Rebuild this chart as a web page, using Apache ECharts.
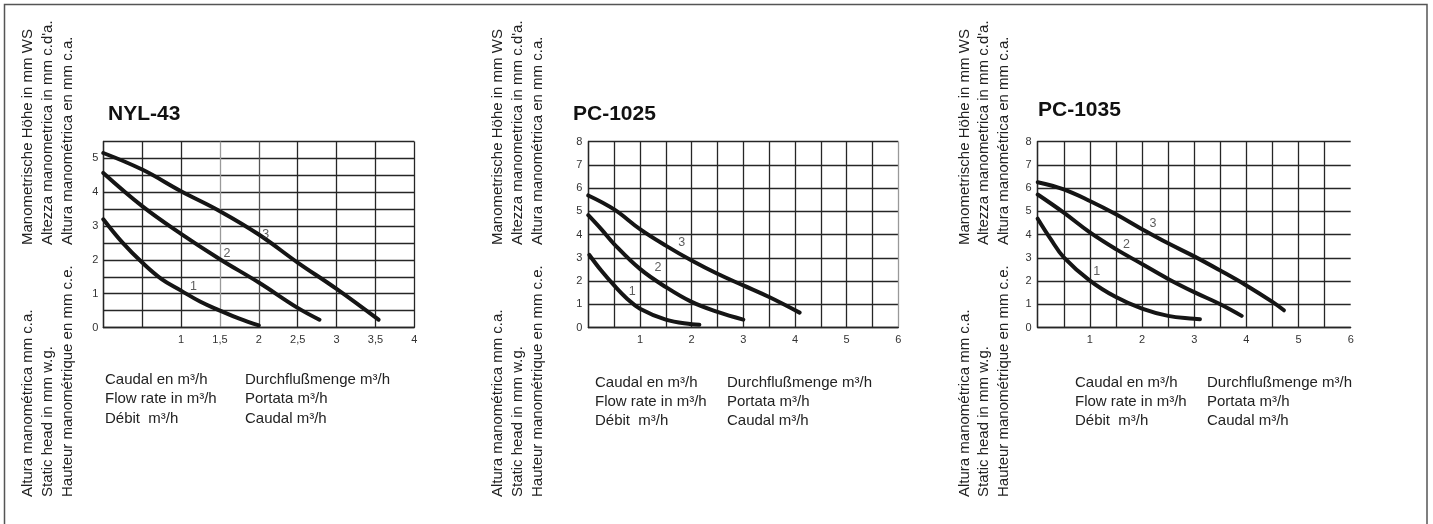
<!DOCTYPE html>
<html><head><meta charset="utf-8">
<script src="https://cdn.jsdelivr.net/npm/echarts@6/dist/echarts.min.js"></script>
<style>html,body{margin:0;padding:0;background:#fff}#c{width:1433px;height:524px}</style>
</head><body><div id="c"></div>
<script>
// ---- data ----
const titles = ['NYL-43', 'PC-1025', 'PC-1035'];
const xTicksA = ['', '', '1', '1,5', '2', '2,5', '3', '3,5', '4'];
const yTicksA = ['0', '', '1', '', '2', '', '3', '', '4', '', '5', ''];
const xTicksB = ['', '', '1', '', '2', '', '3', '', '4', '', '5', '', '6'];
const yTicksB = ['0', '1', '2', '3', '4', '5', '6', '7', '8'];
const curveNames = ['1', '2', '3'];

const nyl43_1 = [[0,3.2],[0.25,2.5],[0.5,1.92],[0.75,1.43],[1,1.09],[1.25,0.76],[1.5,0.5],[1.75,0.26],[2,0.06]];
const nyl43_2 = [[0,4.57],[0.5,3.59],[1,2.77],[1.5,2.02],[2,1.33],[2.5,0.58],[2.78,0.23]];
const nyl43_3 = [[0,5.16],[0.5,4.67],[1,4.03],[1.5,3.44],[2,2.75],[2.5,1.92],[3,1.14],[3.54,0.23]];
const nyl43_lab = [[1.16,1.2],[1.59,2.19],[2.09,2.75]];

const pc1025_1 = [[0.02,3.12],[0.25,2.45],[0.5,1.81],[0.75,1.24],[1,0.81],[1.5,0.34],[2,0.14],[2.15,0.12]];
const pc1025_2 = [[0,4.83],[0.25,4.23],[0.5,3.59],[1,2.52],[1.5,1.74],[2,1.1],[2.5,0.67],[3,0.34]];
const pc1025_3 = [[0,5.68],[0.5,5.08],[1,4.23],[1.5,3.52],[2,2.88],[2.5,2.31],[3,1.81],[3.5,1.31],[4.09,0.64]];
const pc1025_lab = [[0.85,1.53],[1.35,2.59],[1.81,3.65]];

const pc1035_1 = [[0,4.68],[0.25,3.8],[0.5,3.02],[1,2.02],[1.5,1.31],[2,0.81],[2.5,0.5],[3,0.38],[3.11,0.36]];
const pc1035_2 = [[0,5.72],[0.5,4.94],[1,4.09],[1.5,3.37],[2,2.73],[2.5,2.09],[3,1.52],[3.5,1.0],[3.91,0.5]];
const pc1035_3 = [[0,6.25],[0.5,5.94],[1,5.44],[1.5,4.87],[2,4.23],[2.5,3.62],[3,3.06],[3.5,2.45],[4,1.81],[4.5,1.1],[4.72,0.74]];
const pc1035_lab = [[1.13,2.4],[1.7,3.55],[2.21,4.48]];

const yTitleTop = ['Manometrische Höhe in mm WS', "Altezza manometrica in mm c.d'a.", 'Altura manométrica en mm c.a.'];
const yTitleBottom = ['Altura manométrica mm c.a.', 'Static head in mm w.g.', 'Hauteur manométrique en mm c.e.'];
const xTitleLeft = ['Caudal en m³/h', 'Flow rate in m³/h', 'Débit  m³/h'];
const xTitleRight = ['Durchflußmenge m³/h', 'Portata m³/h', 'Caudal m³/h'];

// ---- layout ----
const FONT = '"Liberation Sans", Arial, sans-serif';
const panels = [
  {left:103.3, width:311, vx:[28,48,68], tx:108, ty:114, bx:105, bx2:245, by:380},
  {left:588.3, width:310, vx:[498,518,538], tx:573, ty:114, bx:595, bx2:727, by:382.5},
  {left:1037.7, width:313, vx:[965,984,1004], tx:1038, ty:110, bx:1075, bx2:1207, by:382.5}
];
const curves = [[nyl43_1,nyl43_2,nyl43_3],[pc1025_1,pc1025_2,pc1025_3],[pc1035_1,pc1035_2,pc1035_3]];
const labs = [nyl43_lab, pc1025_lab, pc1035_lab];

const D = '#262626';
const grids = panels.map(p => ({left:p.left, top:141.5, width:p.width, height:186, containLabel:false}));

const labelStyle = {fontSize:11, color:'#333', fontFamily:FONT};
const axisLine = {show:true, lineStyle:{color:D, width:1.3}};
const xAxes = [
  {gridIndex:0, type:'value', min:0, max:4, interval:0.5, axisLine, axisTick:{show:false},
   axisLabel:{...labelStyle, margin:7, formatter:v => xTicksA[Math.round(v/0.5)]},
   splitLine:{show:true, lineStyle:{color:[D,D,D,'#9a9a9a','#555',D,D,D,D], width:1.3}}},
  {gridIndex:1, type:'value', min:0, max:6, interval:0.5, axisLine, axisTick:{show:false},
   axisLabel:{...labelStyle, margin:7, formatter:v => xTicksB[Math.round(v/0.5)]},
   splitLine:{show:true, lineStyle:{color:[D,D,D,D,D,D,D,D,D,D,D,D,'#999'], width:1.3}}},
  {gridIndex:2, type:'value', min:0, max:6, interval:0.5, axisLine, axisTick:{show:false},
   axisLabel:{...labelStyle, margin:7, formatter:v => xTicksB[Math.round(v/0.5)]},
   splitLine:{show:true, lineStyle:{color:[D,D,D,D,D,D,D,D,D,D,D,D,'rgba(0,0,0,0)'], width:1.3}}}
];
const yAxes = [
  {gridIndex:0, type:'value', min:0, max:5.5, interval:0.5, axisLine, axisTick:{show:false},
   axisLabel:{...labelStyle, margin:5, formatter:v => yTicksA[Math.round(v/0.5)]},
   splitLine:{show:true, lineStyle:{color:D, width:1.3}}},
  {gridIndex:1, type:'value', min:0, max:8, interval:1, axisLine, axisTick:{show:false},
   axisLabel:{...labelStyle, margin:6, formatter:v => yTicksB[Math.round(v)]},
   splitLine:{show:true, lineStyle:{color:D, width:1.3}}},
  {gridIndex:2, type:'value', min:0, max:8, interval:1, axisLine, axisTick:{show:false},
   axisLabel:{...labelStyle, margin:6, formatter:v => yTicksB[Math.round(v)]},
   splitLine:{show:true, lineStyle:{color:D, width:1.3}}}
];

const series = [];
curves.forEach((set, gi) => {
  set.forEach((d, ci) => {
    series.push({type:'line', xAxisIndex:gi, yAxisIndex:gi, data:d, smooth:0.4, symbol:'none',
      lineStyle:{color:'#151515', width:4, cap:'round'}, z:5, silent:true});
  });
  series.push({type:'scatter', xAxisIndex:gi, yAxisIndex:gi, symbolSize:0, z:6, silent:true,
    data: labs[gi].map((v, i) => ({name:curveNames[i], value:v})),
    label:{show:true, position:'inside', formatter:p => p.name, fontSize:12.5, color:'#333', fontFamily:FONT}});
});

const graphic = [
  {type:'polyline', shape:{points:[[4.5,524],[4.5,4.5],[1427,4.5],[1427,524]]},
   style:{stroke:'#555', lineWidth:1.5, fill:null}, silent:true}
];
panels.forEach((p, gi) => {
  graphic.push({type:'text', x:p.tx, y:p.ty,
    style:{text:titles[gi], font:'bold 21px ' + FONT, fill:'#111', textAlign:'left', textVerticalAlign:'middle'}});
  p.vx.forEach((x, i) => {
    graphic.push({type:'text', x:x, y:245, rotation:Math.PI/2,
      style:{text:yTitleTop[i], font:'15px ' + FONT, fill:'#222', textAlign:'left', textVerticalAlign:'middle'}});
    graphic.push({type:'text', x:x, y:497, rotation:Math.PI/2,
      style:{text:yTitleBottom[i], font:'15px ' + FONT, fill:'#222', textAlign:'left', textVerticalAlign:'middle'}});
  });
  xTitleLeft.forEach((t, i) => {
    graphic.push({type:'text', x:p.bx, y:p.by + i*19.3,
      style:{text:t, font:'15px ' + FONT, fill:'#222', textAlign:'left', textVerticalAlign:'middle'}});
  });
  xTitleRight.forEach((t, i) => {
    graphic.push({type:'text', x:p.bx2, y:p.by + i*19.3,
      style:{text:t, font:'15px ' + FONT, fill:'#222', textAlign:'left', textVerticalAlign:'middle'}});
  });
});

const chart = echarts.init(document.getElementById('c'), null, {renderer:'canvas'});
chart.setOption({
  animation:false,
  backgroundColor:'#fff',
  grid:grids, xAxis:xAxes, yAxis:yAxes, series:series, graphic:graphic
});
</script>
</body></html>
